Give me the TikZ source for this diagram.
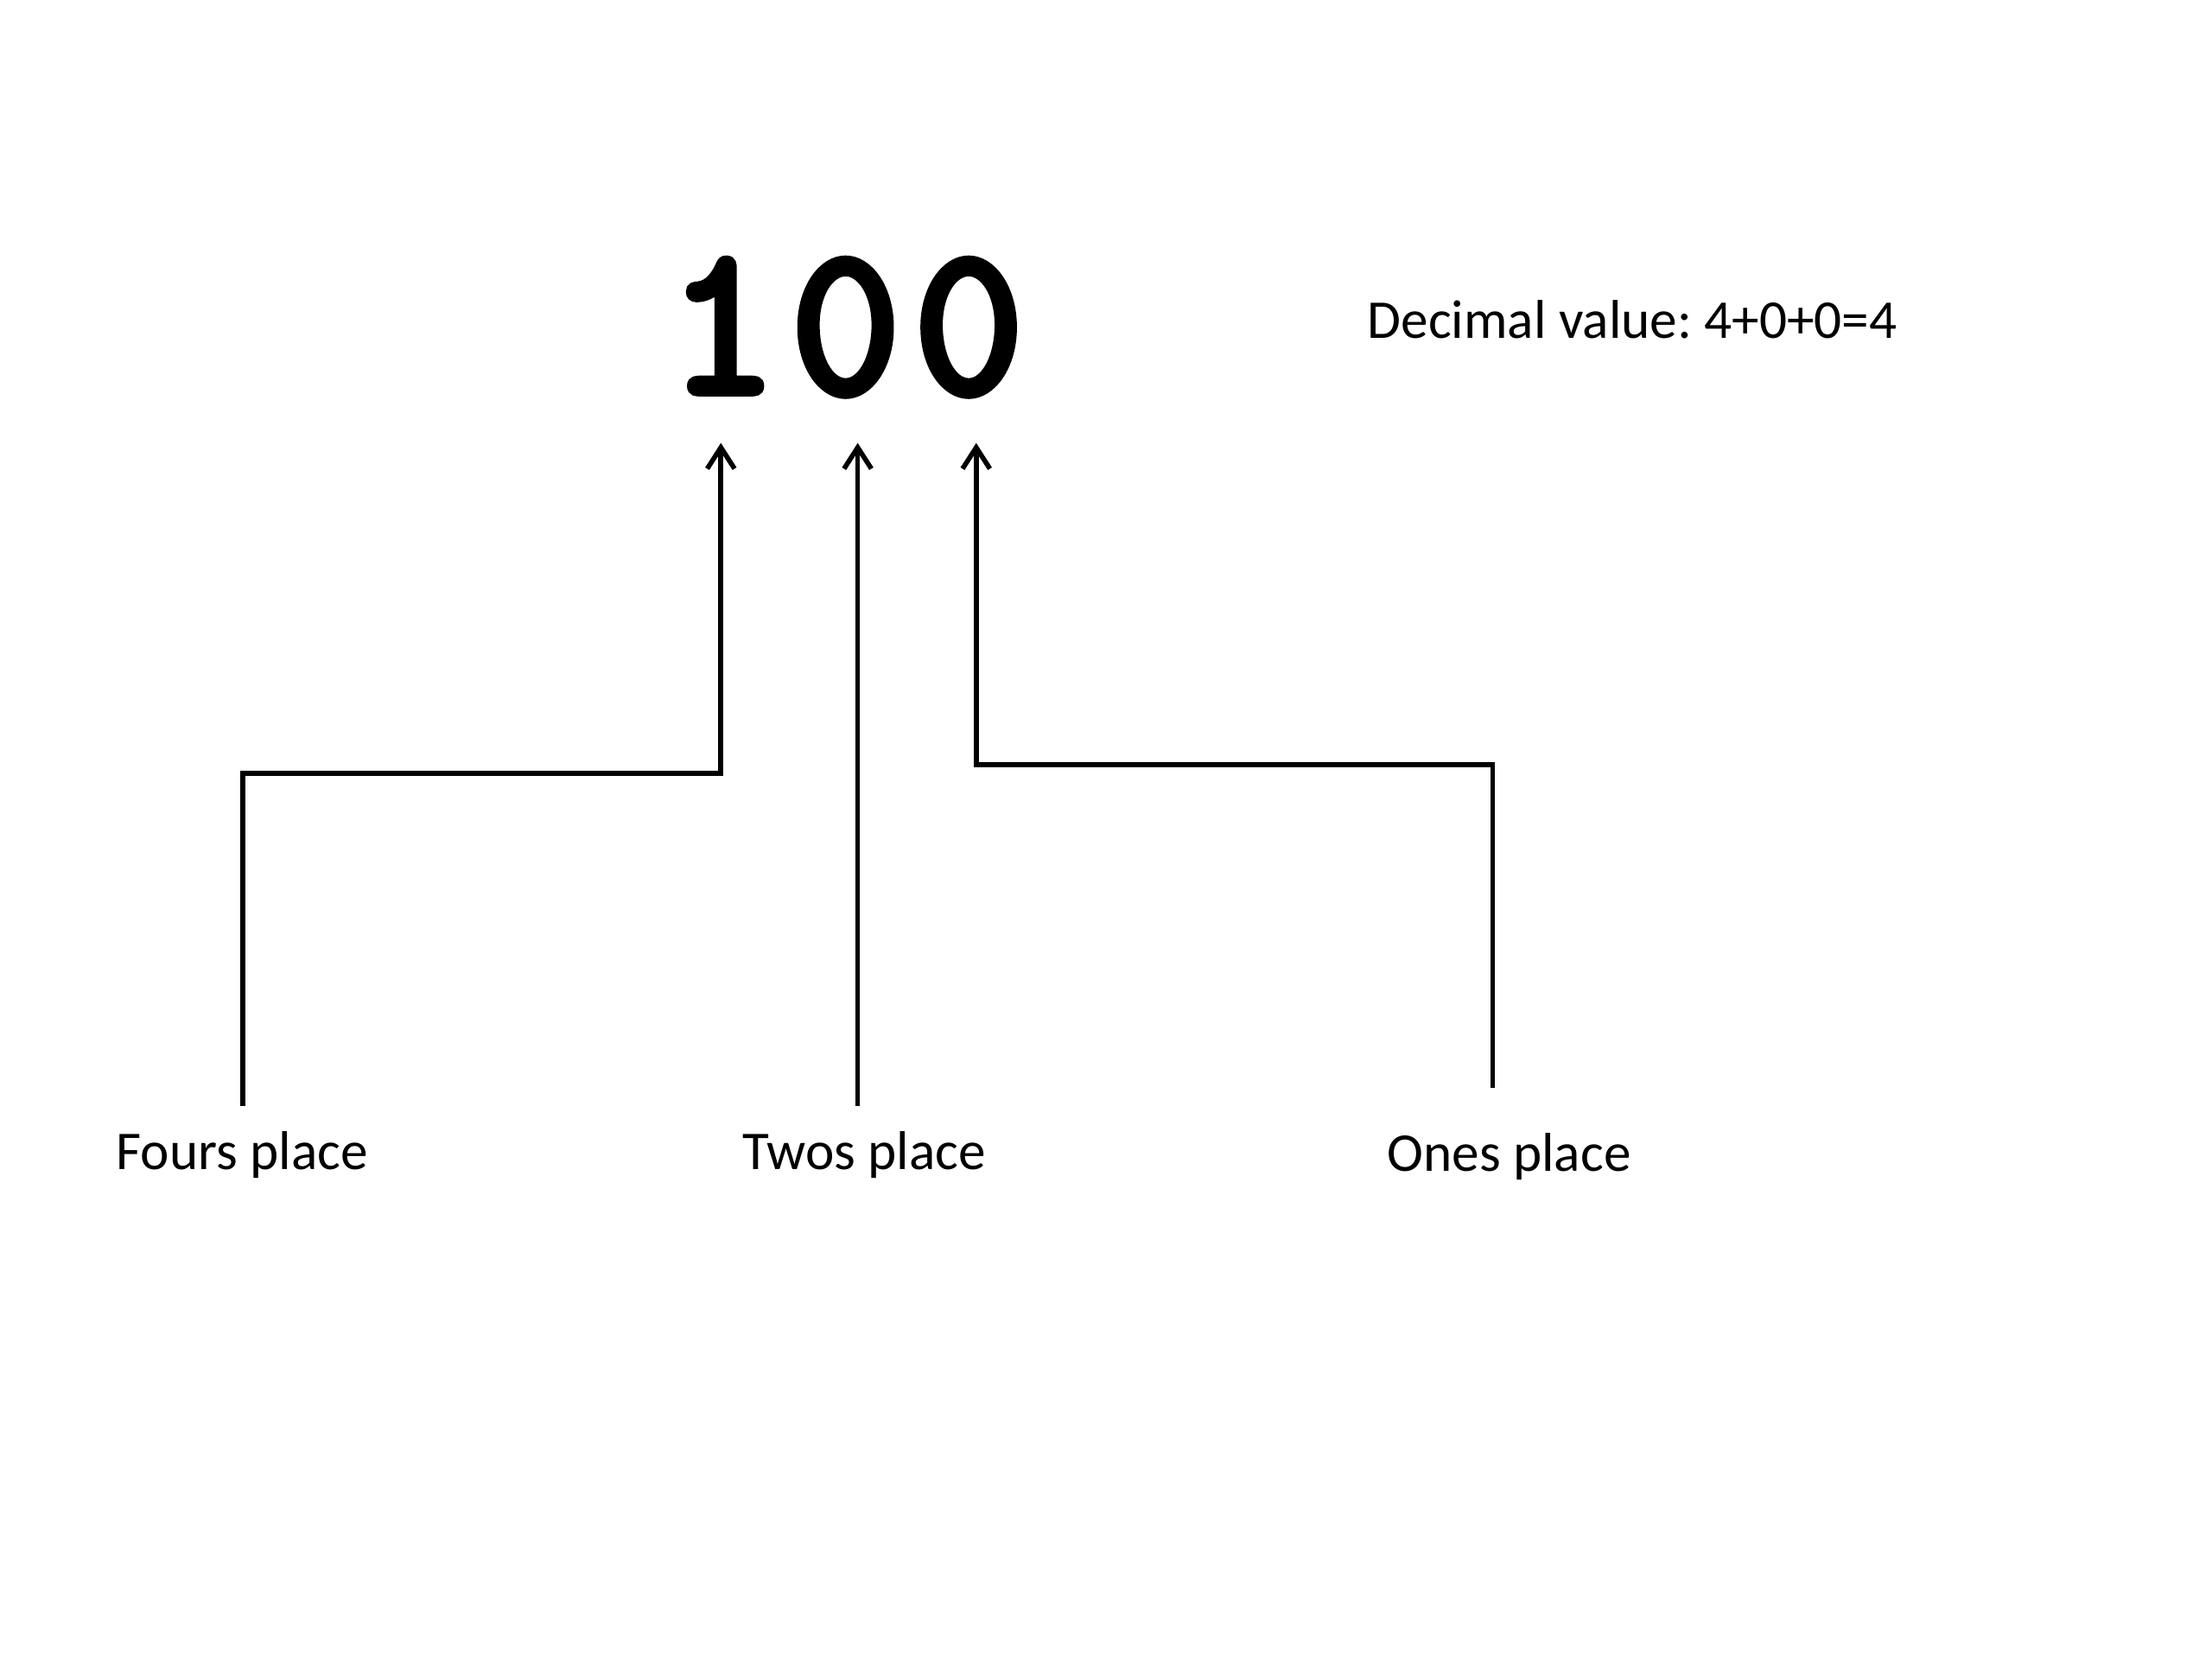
\documentclass[tikz,border=0pt]{standalone}
\usepackage{fontspec}
\setmainfont{Carlito}
\newfontfamily\digfont[FakeBold=4]{Latin Modern Mono}
\usetikzlibrary{arrows.meta}
\frenchspacing
\begin{document}
\begin{tikzpicture}[x=0.016327cm,y=-0.016327cm,
  lbl/.style={inner sep=0pt,anchor=base west,font=\fontsize{18pt}{22pt}\selectfont},
  conn/.style={line width=1.6pt,-{Straight Barb[length=7pt,width=9pt,line width=1.6pt]}}]
\useasboundingbox (0,0) rectangle (1568,1176);
\node[inner sep=0pt,anchor=base west,font=\digfont\fontsize{70pt}{80pt}\selectfont] (num) at (473,278) {1\kern4.5pt0\kern4.5pt0};
\node[lbl] (dec) at (969,240) {Decimal value: 4+0+0=4};
\node[lbl] (fours) at (82,829) {Fours place};
\node[lbl] (twos) at (526,829) {Twos place};
\node[lbl] (ones) at (983,830) {Ones place};
\coordinate (t1) at (511,314);
\coordinate (t2) at (608,314);
\coordinate (t3) at (692,314);
\coordinate (s1) at (172,784);
\coordinate (s2) at (608,784);
\coordinate (s3) at (1058,771);
\draw[conn] (s1) -- (172,548) -| (t1);
\draw[conn] (s2) -- (t2);
\draw[conn] (s3) -- (1058,542) -| (t3);
\end{tikzpicture}
\end{document}
